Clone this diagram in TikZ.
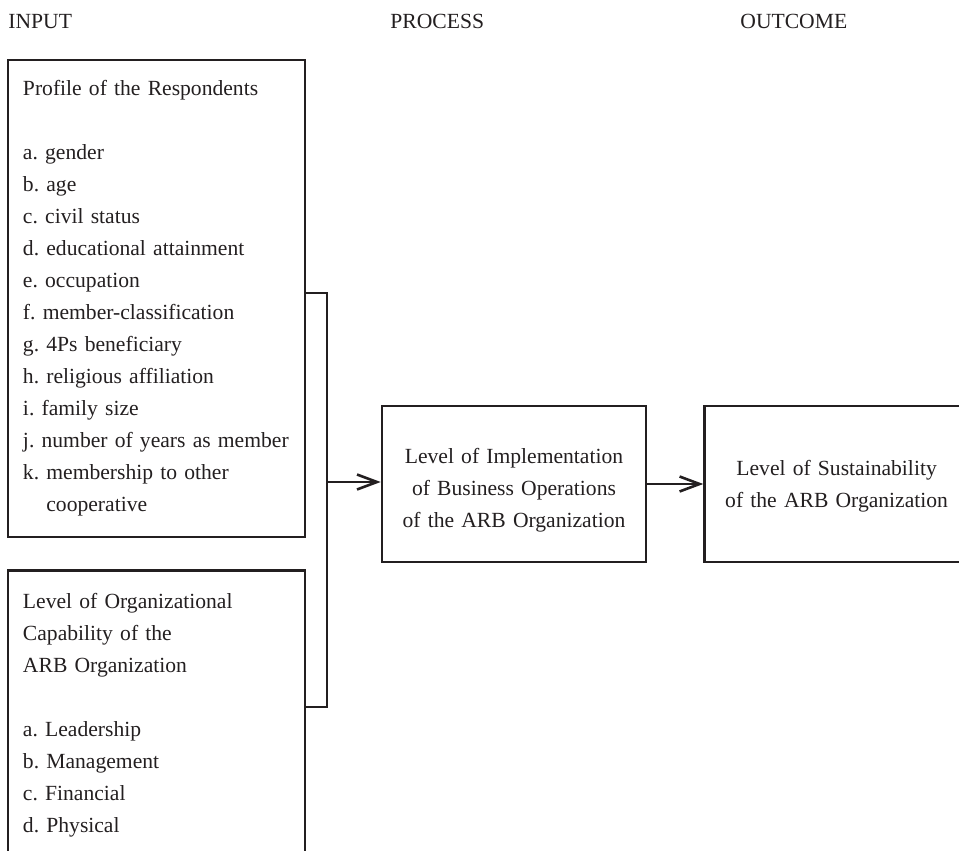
\documentclass[tikz,border=0pt]{standalone}
\usepackage{fontspec}
\setmainfont[WordSpace=0.8]{Liberation Serif}
\usetikzlibrary{positioning,arrows.meta}
\definecolor{ink}{RGB}{35,31,32}
\frenchspacing

\begin{document}
\begin{tikzpicture}[x=0.5pt,y=-0.5pt]
\tikzstyle{main}=[rectangle, draw=ink, line width=1.3pt, text=ink, font=\fontsize{10.8}{16}\selectfont, inner ysep=0pt]
\tikzstyle{listbox}=[main, text width=133.5pt, inner xsep=7.5pt, align=left]
\tikzstyle{varbox}=[main, text width=126pt, inner xsep=3pt, minimum height=78pt, align=center]
\tikzstyle{head}=[anchor=base west, inner sep=0pt, text=ink, font=\fontsize{10.8}{16}\selectfont]
\tikzstyle{connect}=[-{Straight Barb[length=10pt,width=7.5pt]}, line width=1.3pt, draw=ink]
\tikzstyle{bracket}=[line width=1.3pt, draw=ink]
\clip (0,0) rectangle (959,851);
\node[head] (input) at (8,28) {INPUT};
\node[head] (process) at (390,28) {PROCESS};
\node[head] (outcome) at (740,28) {OUTCOME};
\node[listbox, minimum height=238.5pt] (profile) at (156.5,298.5) {Profile of the Respondents\\[16pt]
  a. gender\\ b. age\\ c. civil status\\ d. educational attainment\\ e. occupation\\
  f. member-classification\\ g. 4Ps beneficiary\\ h. religious affiliation\\ i. family size\\
  \mbox{j. number of years as member}\\ k. membership to other\\ \hphantom{k.~}cooperative};
\node[listbox, minimum height=145pt, below=15.5pt of profile] (capability) {Level of Organizational\\
  Capability of the\\ ARB Organization\\[16pt]
  a. Leadership\\ b. Management\\ c. Financial\\ d. Physical};
\node[varbox] (implementation) at (514,484) {\rule{0pt}{13.4pt}Level of Implementation\\ of Business Operations\\ of the ARB Organization};
\node[varbox, right=28pt of implementation] (sustainability) {\rule{0pt}{9.4pt}Level of Sustainability\\ of the ARB Organization};
\coordinate (hi) at (305,293);
\coordinate (lo) at (305,707);
\coordinate (jn) at (327,482);
\draw[bracket] (hi) -| (jn) |- (lo);
\draw[connect] (jn) -- (jn -| implementation.west);
\path (implementation) edge[connect] (sustainability);
\end{tikzpicture}
\end{document}
